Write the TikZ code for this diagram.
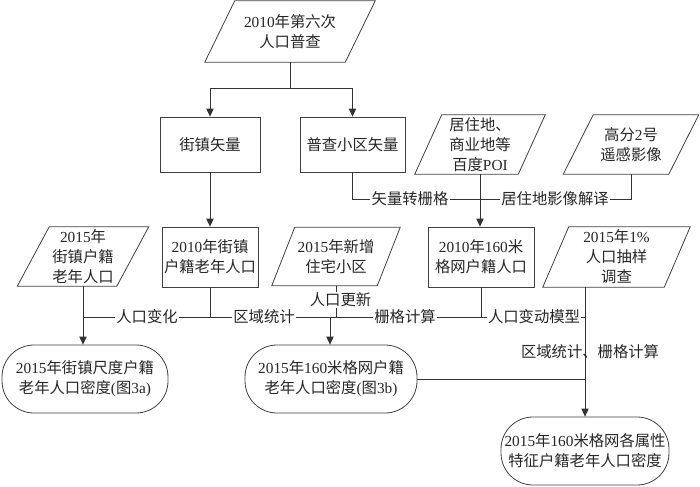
\documentclass[tikz,border=0pt]{standalone}
\usepackage{fontspec}
\setmainfont{Liberation Serif}
\newfontfamily\cjk{Noto Sans CJK SC}
\usetikzlibrary{arrows.meta}
\newcommand\en[1]{{\rmfamily #1}}
\newcommand\parabox[6]{%
  \node[txt, minimum width=#3*0.75pt, minimum height=#4*0.75pt] (#1) at (#2) {#6};
  \draw[shapeline] ([xshift=#5*0.75pt]#1.north west) -- (#1.north east)
    -- ([xshift=-#5*0.75pt]#1.south east) -- (#1.south west) -- cycle;}
\tikzset{
  txt/.style={align=center, inner sep=0pt, font=\cjk\fontsize{11.5}{15}\selectfont, text=black!85},
  shapeline/.style={draw=black!75, line width=0.6pt},
  rectbox/.style={txt, draw=black!75, line width=0.6pt},
  stadium/.style={txt, draw=black!75, line width=0.6pt, rounded corners=24pt},
  conn/.style={draw=black!80, line width=0.6pt},
  arr/.style={conn, -{Triangle[length=6pt,width=5.5pt]}},
  lbl/.style={txt, fill=white, inner sep=1pt},
}
\begin{document}
\begin{tikzpicture}[x=0.75pt, y=-0.75pt]
\useasboundingbox (0,0) rectangle (700,486);
% row 1
\parabox{census}{290,31.5}{170}{61}{30}{\en{2010}年第六次\\人口普查}
% row 2
\node[rectbox, minimum width=100*0.75pt, minimum height=55*0.75pt] (jz) at (210,144.5) {街镇矢量};
\node[rectbox, minimum width=105*0.75pt, minimum height=55*0.75pt] (pc) at (352.5,144.5) {普查小区矢量};
\parabox{poi}{480,144.5}{130}{59}{27}{居住地、\\商业地等\\百度\en{POI}}
\parabox{gf}{631,144.5}{135}{59}{30}{高分\en{2}号\\遥感影像}
% row 3
\parabox{jz15}{83,256.5}{131}{59}{32}{\en{2015}年\\街镇户籍\\老年人口}
\node[rectbox, minimum width=96*0.75pt, minimum height=60*0.75pt] (jz10) at (210,257) {\en{2010}年街镇\\户籍老年人口};
\parabox{xz}{336,256.5}{128}{58}{23}{\en{2015}年新增\\住宅小区}
\node[rectbox, minimum width=106*0.75pt, minimum height=60*0.75pt] (gw10) at (481,257) {\en{2010}年\en{160}米\\格网户籍人口};
\parabox{cy}{616.5,257}{147}{60}{26}{\en{2015}年\en{1\%}\\人口抽样\\调查}
% row 4
\node[stadium, minimum width=166*0.75pt, minimum height=68*0.75pt] (d3a) at (85,379) {\en{2015}年街镇尺度户籍\\老年人口密度\en{(}图\en{3a)}};
\node[stadium, minimum width=172*0.75pt, minimum height=68*0.75pt] (d3b) at (331,379) {\en{2015}年\en{160}米格网户籍\\老年人口密度\en{(}图\en{3b)}};
\node[stadium, minimum width=168*0.75pt, minimum height=68*0.75pt] (fin) at (585,451) {\en{2015}年\en{160}米格网各属性\\特征户籍老年人口密度};
% junction coordinates
\coordinate (j1) at (290,88);
\coordinate (j2) at (631,199);
\coordinate (hl) at (83,317);
\coordinate (hr) at (585,317);
\coordinate (ja) at (330,317);
\coordinate (jb) at (585,379);
% connectors
\draw[conn] (census.south) -- (j1);
\draw[arr] (j1) -| (jz.north);
\draw[arr] (j1) -| (pc.north);
\draw[arr] (jz.south) -- (jz10.north);
\draw[conn] (pc.south) |- (j2) -- (gf.south);
\draw[arr] (poi.south) -- (poi.south |- gw10.north);
\draw[arr] (jz15.south) -- (jz15.south |- d3a.north);
\draw[conn] (hl) -- (hr);
\draw[conn] (jz10.south) -- (jz10.south |- hl);
\draw[conn] (xz.south) -- (xz.south |- hl);
\draw[conn] (gw10.south) -- (gw10.south |- hl);
\draw[arr] (ja) -- (ja |- d3b.north);
\draw[conn] (cy.south -| hr) -- (hr);
\draw[arr] (hr) -- (fin.north);
\draw[conn] (d3b.east) -- (jb);
% labels
\node[lbl] (l1) at (410,199) {矢量转栅格};
\node[lbl] (l2) at (555,199) {居住地影像解译};
\node[lbl] (l3) at (147,317) {人口变化};
\node[lbl] (l4) at (264,317) {区域统计};
\node[lbl] (l5) at (340.5,300) {人口更新};
\node[lbl] (l6) at (405,317) {栅格计算};
\node[lbl] (l7) at (534,317) {人口变动模型};
\node[txt] (l8) at (590,352) {区域统计、栅格计算};
\end{tikzpicture}
\end{document}
